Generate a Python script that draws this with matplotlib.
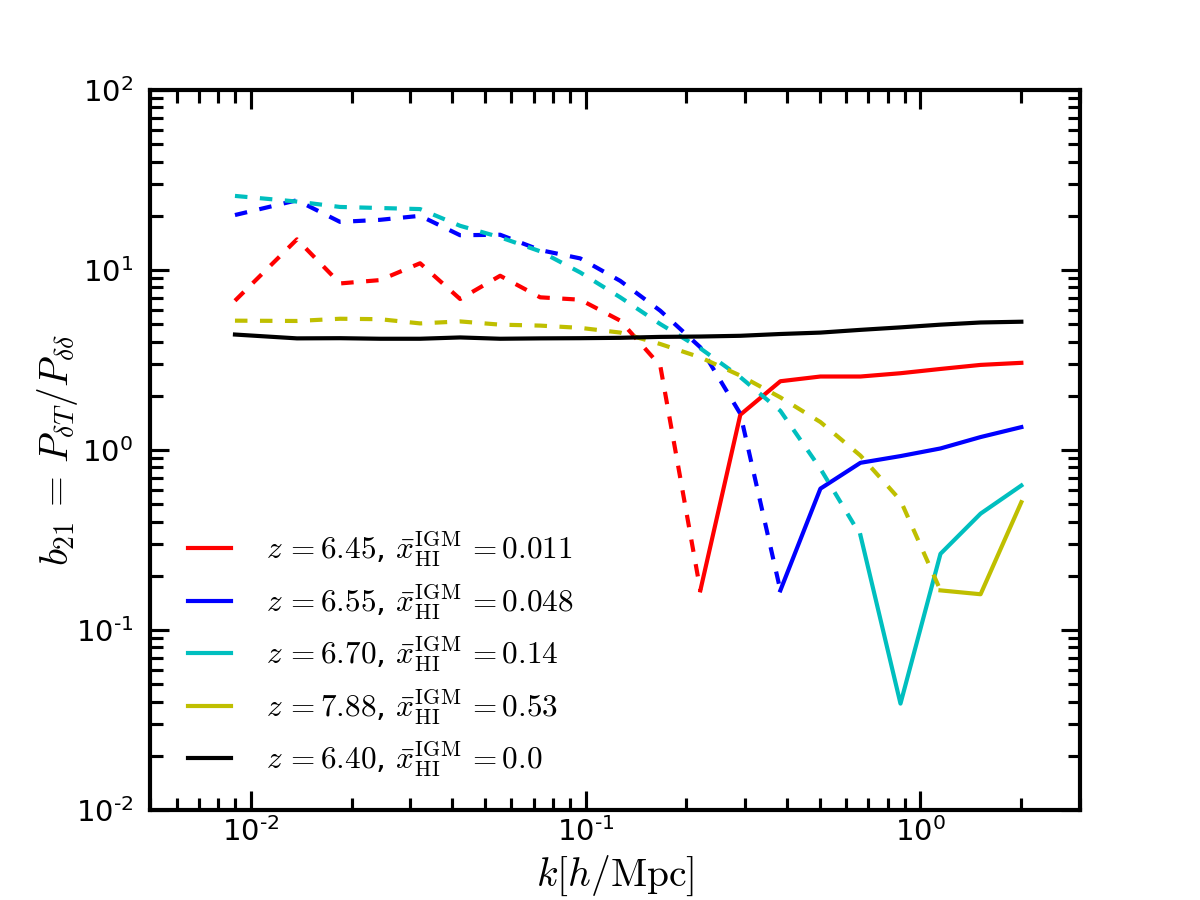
import numpy as np
import matplotlib
matplotlib.use('Agg')
import matplotlib.pyplot as plt
from matplotlib.ticker import LogLocator, FuncFormatter, NullFormatter

plt.rcParams['mathtext.fontset'] = 'cm'
plt.rcParams['lines.scale_dashes'] = False

# k bins [h/Mpc]
k = np.array([0.00897, 0.01374, 0.01848, 0.02433, 0.03205, 0.04220, 0.05558,
              0.07321, 0.09642, 0.1270, 0.1672, 0.2203, 0.2900, 0.3820,
              0.5031, 0.6626, 0.8727, 1.149, 1.514, 2.004])

# b21, negative values are drawn dashed (as |b21|)
b_645 = np.array([-6.75, -14.8, -8.42, -8.79, -10.9, -6.9, -9.29, -7.05, -6.84, -5.23,
                  -2.94, -0.166, 1.57, 2.41, 2.56, 2.56, 2.67, 2.82, 2.97, 3.05])
b_655 = np.array([-20.2, -24.4, -18.5, -19.0, -20.0, -15.6, -15.7, -12.9, -11.6, -8.7,
                  -5.94, -3.72, -1.59, -0.166, 0.61, 0.849, 0.925, 1.02, 1.18, 1.34])
b_670 = np.array([-25.8, -24.0, -22.4, -22.1, -21.8, -17.6, -15.2, -12.7, -9.69, -7.05,
                  -5.01, -3.67, -2.54, -1.65, -0.787, -0.336, 0.039, 0.265, 0.443, 0.635])
b_788 = np.array([-5.23, -5.21, -5.36, -5.33, -5.05, -5.18, -4.97, -4.91, -4.77, -4.49,
                  -3.88, -3.27, -2.59, -1.96, -1.43, -0.931, -0.525, -0.166, 0.158, 0.513])
b_640 = np.array([4.38, 4.17, 4.18, 4.15, 4.15, 4.22, 4.15, 4.17, 4.18, 4.20,
                  4.25, 4.27, 4.31, 4.41, 4.49, 4.65, 4.80, 4.97, 5.11, 5.16])

series = [b_645, b_655, b_670, b_788, b_640]
colors = ['r', 'b', 'c', 'y', 'k']
z_vals = ['6.45', '6.55', '6.70', '7.88', '6.40']
xhi_vals = ['0.011', '0.048', '0.14', '0.53', '0.0']
labels = [r'$z\,{=}%s$, $\bar{x}_{\rm HI}^{\rm IGM}\,{=}%s$' % (z, x)
          for z, x in zip(z_vals, xhi_vals)]

fig, ax = plt.subplots(figsize=(8, 6), dpi=150)
fig.subplots_adjust(left=0.125, right=0.9, bottom=0.1, top=0.9)

for b, c, lab in zip(series, colors, labels):
    neg = np.where(b < 0)[0]
    last = neg[-1] if len(neg) else 0
    if len(neg):
        ax.plot(k[:last + 1], np.abs(b[:last + 1]), color=c, lw=2, dashes=(6, 6))
    ax.plot(k[last:], np.abs(b[last:]), color=c, lw=2, label=lab)

ax.set_xscale('log')
ax.set_yscale('log')
ax.set_xlim(0.005, 3)
ax.set_ylim(1e-2, 1e2)

ax.xaxis.set_minor_locator(LogLocator(base=10, subs=np.arange(2, 10)))
ax.yaxis.set_minor_locator(LogLocator(base=10, subs=np.arange(2, 10)))
ax.xaxis.set_minor_formatter(NullFormatter())
ax.yaxis.set_minor_formatter(NullFormatter())


def dec_fmt(v, p):
    e = int(round(np.log10(v)))
    if e < 0:
        return r'$10^{\text{-}%d}$' % (-e)
    return r'$10^{%d}$' % e


ax.xaxis.set_major_formatter(FuncFormatter(dec_fmt))
ax.yaxis.set_major_formatter(FuncFormatter(dec_fmt))

ax.tick_params(which='both', direction='in', top=True, right=True, width=1.5)
ax.tick_params(which='major', length=9, labelsize=14)
ax.tick_params(which='minor', length=6)
ax.tick_params(axis='x', which='major', pad=3.5)
ax.tick_params(axis='y', which='major', pad=8)
for sp in ax.spines.values():
    sp.set_linewidth(2)

fig.canvas.draw()
for t in ax.get_xticklabels() + ax.get_yticklabels():
    t.set_math_fontfamily('dejavusans')

ax.set_xlabel(r'$k[h/{\rm Mpc}]$', fontsize=19, labelpad=3)
ax.set_ylabel(r'$b_{21}\,=\,P_{\delta T}/P_{\delta\delta}$', fontsize=19, labelpad=-2)

ax.legend(loc='lower left', bbox_to_anchor=(0.011, 0.004), frameon=False,
          fontsize=15, handlelength=1.38, handletextpad=1.1, labelspacing=0.42)

fig.savefig('out.png', dpi=150)
